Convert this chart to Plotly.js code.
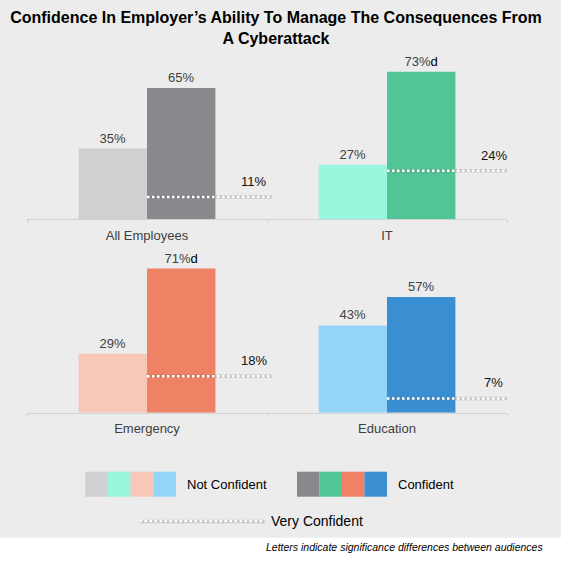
<!DOCTYPE html>
<html>
<head>
<meta charset="utf-8">
<script src="https://cdn.plot.ly/plotly-3.0.1.min.js"></script>
<style>
  html, body { margin: 0; padding: 0; background: #ececec; }
  #chart { width: 561px; height: 561px; }
</style>
</head>
<body>
<div id="chart"></div>
<script>
/* ---------------- DATA ---------------- */
const audiences = ["All Employees", "IT", "Emergency", "Education"];
const notConfident = [35, 27, 29, 43];
const confident = [65, 73, 71, 57];
const veryConfident = [11, 24, 18, 7];
const sigLetters = ["", "d", "d", ""];   // on the Confident bar

const notConfidentColors = ["#d0d0d2", "#98f7dc", "#f7c7b8", "#94d5f9"];
const confidentColors = ["#88898d", "#52c597", "#ef8264", "#3a8fd2"];

/* ---------------- GEOMETRY HELPERS ---------------- */
const W = 561, H = 561, ML = 27, MR = 54;
const px = x => (x - ML) / (W - ML - MR);   // pixel -> paper x
const py = y => 1 - y / H;                  // pixel -> paper y

const FONT = "Liberation Sans, Arial, sans-serif";
const BAR_W = 0.285;
const VC_LEN = 0.52;

const panels = [
  { xa: "x", ya: "y", base: 219.3, scale: 2.02 },
  { xa: "x2", ya: "y2", base: 412.7, scale: 2.03 }
];

const traces = [];
const annotations = [];

panels.forEach((p, pi) => {
  const idx = [pi * 2, pi * 2 + 1];
  const xs = [0, 1];

  traces.push({
    type: "bar",
    x: xs,
    y: idx.map(i => notConfident[i]),
    offset: -BAR_W,
    width: BAR_W,
    marker: { color: idx.map(i => notConfidentColors[i]) },
    text: idx.map(i => notConfident[i] + "%"),
    textposition: "outside",
    textfont: { family: FONT, size: 13, color: "#404040" },
    cliponaxis: false,
    xaxis: p.xa, yaxis: p.ya,
    showlegend: false, hoverinfo: "skip"
  });

  traces.push({
    type: "bar",
    x: xs,
    y: idx.map(i => confident[i]),
    offset: 0,
    width: BAR_W,
    marker: { color: idx.map(i => confidentColors[i]) },
    text: idx.map(i => confident[i] + "%" +
      (sigLetters[i] ? '<span style="color:#000">' + sigLetters[i] + "</span>" : "")),
    textposition: "outside",
    textfont: { family: FONT, size: 13, color: "#404040" },
    cliponaxis: false,
    xaxis: p.xa, yaxis: p.ya,
    showlegend: false, hoverinfo: "skip"
  });

  // very confident dotted lines
  idx.forEach((i, k) => {
    const lx = [xs[k], xs[k] + VC_LEN];
    const ly = [veryConfident[i], veryConfident[i]];
    traces.push({
      type: "scatter", mode: "lines", x: lx, y: ly,
      line: { color: "rgba(110,110,110,0.28)", width: 3.5 },
      cliponaxis: false, xaxis: p.xa, yaxis: p.ya,
      showlegend: false, hoverinfo: "skip"
    });
    traces.push({
      type: "scatter", mode: "lines", x: lx, y: ly,
      line: { color: "#ffffff", width: 2.5, dash: "2.5px,2.5px" },
      cliponaxis: false, xaxis: p.xa, yaxis: p.ya,
      showlegend: false, hoverinfo: "skip"
    });
    annotations.push({
      xref: p.xa, yref: p.ya,
      x: xs[k] + 0.445, y: veryConfident[i],
      yanchor: "bottom", yshift: 6,
      text: veryConfident[i] + "%",
      showarrow: false,
      font: { family: FONT, size: 13, color: "#111" }
    });
  });
});

/* ---------------- LEGEND (hand built) ---------------- */
const shapes = [];

// white band at the bottom
shapes.push({
  type: "rect", xref: "paper", yref: "paper",
  x0: -0.2, x1: 1.3, y0: -0.1, y1: py(537.7),
  fillcolor: "#ffffff", line: { width: 0 }, layer: "below"
});

const swW = 22.7, swTop = 471.7, swBot = 496.7;
notConfidentColors.forEach((c, i) => {
  shapes.push({
    type: "rect", xref: "paper", yref: "paper",
    x0: px(85.2 + i * swW), x1: px(85.2 + (i + 1) * swW),
    y0: py(swBot), y1: py(swTop),
    fillcolor: c, line: { width: 0 }
  });
});
confidentColors.forEach((c, i) => {
  shapes.push({
    type: "rect", xref: "paper", yref: "paper",
    x0: px(297 + i * 22.5), x1: px(297 + (i + 1) * 22.5),
    y0: py(swBot), y1: py(swTop),
    fillcolor: c, line: { width: 0 }
  });
});
shapes.push({
  type: "line", xref: "paper", yref: "paper",
  x0: px(139.5), x1: px(264.8), y0: py(521.5), y1: py(521.5),
  line: { color: "rgba(110,110,110,0.28)", width: 3.5 }
});
shapes.push({
  type: "line", xref: "paper", yref: "paper",
  x0: px(139.5), x1: px(264.8), y0: py(521), y1: py(521),
  line: { color: "#ffffff", width: 2.5, dash: "2.5px,2.5px" }
});

const legendText = [
  { t: "Not Confident", x: 184.6, y: 484.3 },
  { t: "Confident", x: 395.7, y: 484.3 },
  { t: "Very Confident", x: 269, y: 521 }
];
legendText.forEach(l => {
  annotations.push({
    xref: "paper", yref: "paper", x: px(l.x), y: py(l.y),
    xanchor: "left", yanchor: "middle", text: l.t, showarrow: false,
    font: { family: FONT, size: l.t === "Very Confident" ? 14 : 13, color: "#000" }
  });
});

annotations.push({
  xref: "paper", yref: "paper", x: px(545), y: py(547),
  xanchor: "right", yanchor: "middle",
  text: "<i>Letters indicate significance differences between audiences</i>",
  showarrow: false,
  font: { family: FONT, size: 10.5, color: "#000" }
});

/* ---------------- AXES ---------------- */
function xAxis(pi, anchor) {
  return {
    domain: [0, 1], anchor: anchor, range: [-0.5, 1.5],
    tickvals: [0, 1], ticktext: audiences.slice(pi * 2, pi * 2 + 2),
    ticks: "", showgrid: false, zeroline: false,
    showline: true, linecolor: "#d2d2d2", linewidth: 1,
    tickfont: { family: FONT, size: 13, color: "#404040" },
    ticklabelstandoff: 4,
    minor: { tickvals: [-0.5, 0.5, 1.5], ticks: "outside", ticklen: 3, tickcolor: "#d2d2d2", showgrid: false },
    fixedrange: true
  };
}
function yAxis(p, anchor) {
  return {
    domain: [py(p.base), py(p.base - 80 * p.scale)],
    anchor: anchor, range: [0, 80], visible: false, fixedrange: true
  };
}

const layout = {
  width: W, height: H,
  margin: { l: ML, r: MR, t: 0, b: 0, pad: 0 },
  paper_bgcolor: "#ececec",
  plot_bgcolor: "rgba(0,0,0,0)",
  title: {
    text: "<b>Confidence In Employer’s Ability To Manage The Consequences From<br>A Cyberattack</b>",
    font: { family: FONT, size: 16, color: "#000" },
    xref: "container", x: 0.492,
    yref: "container", y: py(23), yanchor: "top"
  },
  barmode: "overlay",
  xaxis: xAxis(0, "y"),
  yaxis: yAxis(panels[0], "x"),
  xaxis2: xAxis(1, "y2"),
  yaxis2: yAxis(panels[1], "x2"),
  shapes: shapes,
  annotations: annotations,
  showlegend: false
};

Plotly.newPlot("chart", traces, layout, { displayModeBar: false, staticPlot: true });
</script>
</body>
</html>
